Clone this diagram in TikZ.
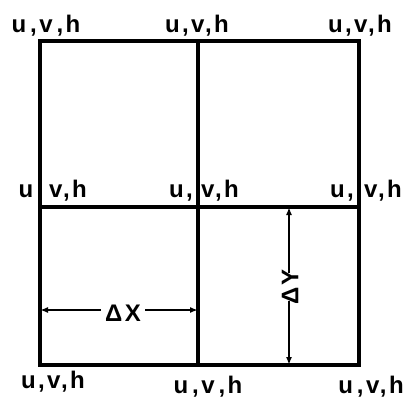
\documentclass[tikz,border=0pt]{standalone}
\usepackage{fontspec}
\setmainfont{Liberation Sans}
\usetikzlibrary{arrows.meta}
\begin{document}
\begin{tikzpicture}[x=1pt,y=-1pt,
  grid/.style={line width=3.2pt,line cap=round},
  dim/.style={line width=2pt,-{Latex[length=8pt,width=6pt]}},
  lab/.style={font=\bfseries\fontsize{24}{24}\selectfont\addfontfeature{LetterSpace=10},inner sep=0pt,anchor=base}]
\useasboundingbox (0,0) rectangle (410,408);
\coordinate (A) at (40,41);
\coordinate (B) at (198,41);
\coordinate (C) at (359,41);
\coordinate (D) at (40,207);
\coordinate (E) at (198,207);
\coordinate (F) at (359,207);
\coordinate (G) at (40,365);
\coordinate (H) at (198,365);
\coordinate (I) at (359,365);
\draw[grid] (A) -- (C) -- (I) -- (G) -- cycle;
\draw[grid] (B) -- (H);
\draw[grid] (D) -- (F);
% labels
\node[lab] (t1) at (46,32) {u\,,v\,,h};
\node[lab] (t2) at (197,32) {u,v,h};
\node[lab] (t3) at (360,32) {u,v,h};
\node[lab] (m1a) at (26,197) {u};
\node[lab] (m1b) at (68,197) {v,h};
\node[lab] (m2a) at (181,197) {u,};
\node[lab] (m2b) at (220,197) {v,h};
\node[lab] (m3a) at (342,197) {u,};
\node[lab] (m3b) at (383,197) {v,h};
\node[lab] (b1) at (53,388) {u,v,h};
\node[lab] (b2) at (208,393) {u\,,v\,,h};
\node[lab] (b3) at (371,393) {u\,,v,h};
% dimensions
\coordinate (dxL) at (40,310);
\coordinate (dxR) at (198,310);
\coordinate (dyT) at (289,207);
\coordinate (dyB) at (289,365);
\node[lab,anchor=center] (dx) at (123,313) {ΔX};
\draw[dim] ([xshift=-4pt]dx.west |- dxL) -- (dxL);
\draw[dim] ([xshift=4pt]dx.east |- dxL) -- (dxR);
\node[lab,anchor=center,rotate=90] (dy) at (290,287) {ΔY};
\draw[dim] ([yshift=-4pt]dy.east -| dyT) -- (dyT);
\draw[dim] ([yshift=4pt]dy.west -| dyT) -- (dyB);
\end{tikzpicture}
\end{document}
